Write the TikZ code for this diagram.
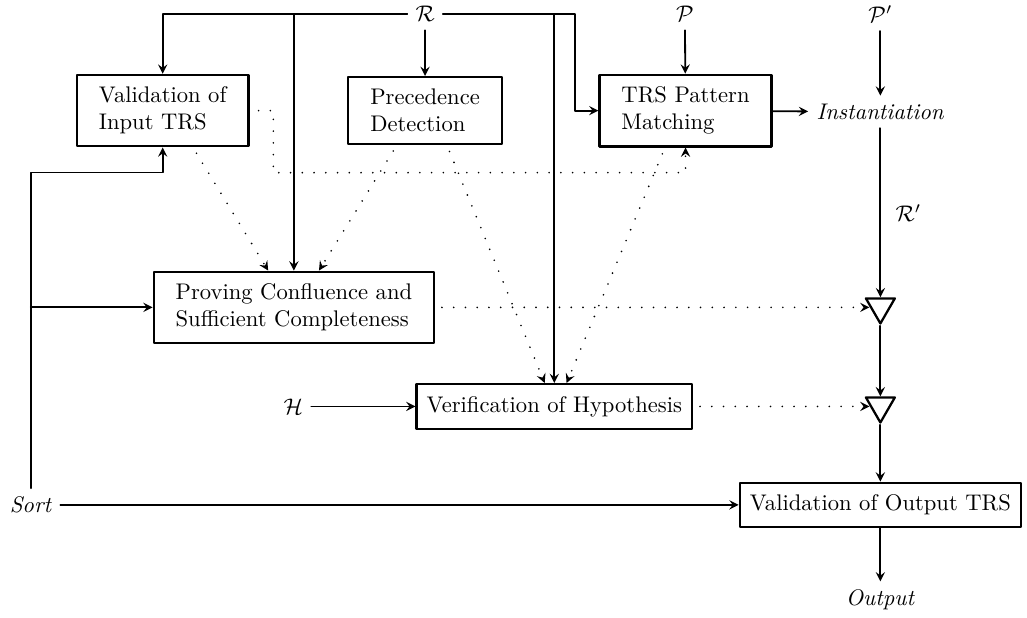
\documentclass[tikz,border=0pt]{standalone}
\usetikzlibrary{shapes.geometric}
\begin{document}
\begin{tikzpicture}[line cap=round,line join=round,>=stealth,thick,
  box/.style={draw,line width=1pt,inner xsep=4.5pt,inner ysep=5.3pt},
  mbox/.style={box,align=left,inner xsep=9.7pt},
  tri/.style={draw,line width=1pt,regular polygon,regular polygon sides=3,shape border rotate=180,inner sep=0pt,minimum size=14.8pt},
  dots/.style={dash pattern=on 0pt off 5.2pt}]
\useasboundingbox (0,0) rectangle (15.97,-9.596);
% inputs
\node (R) at (6.61,-0.22) {$\mathcal{R}$};
\node (P) at (10.65,-0.22) {$\mathcal{P}$};
\node (Pp) at (13.69,-0.22) {$\mathcal{P}'$};
\node (H) at (4.56,-6.32) {$\mathcal{H}$};
\node (sort) at (0.48,-7.85) {\textit{Sort}};
% boxes
\node[mbox] (valin) at (2.53,-1.72) {Validation of\\Input TRS};
\node[mbox] (prec) at (6.61,-1.72) {Precedence\\Detection};
\node[mbox] (trs) at (10.66,-1.72) {TRS Pattern\\Matching};
\node (inst) at (13.69,-1.74) {\textit{Instantiation}};
\node[mbox] (prov) at (4.57,-4.78) {Proving Confluence and\\Sufficient Completeness};
\node[box] (verif) at (8.62,-6.32) {Verification of Hypothesis};
\node[tri] (t1) at (13.69,-4.77) {};
\node[tri] (t2) at (13.69,-6.31) {};
\node[box] (outv) at (13.69,-7.85) {Validation of Output TRS};
\node (out) at (13.69,-9.33) {\textit{Output}};
% solid arrows
\draw[->] (R) -| (valin);
\draw[->] (R) -| (prov);
\draw[->] (R) -- (prec);
\draw[->] (R) -| (verif);
\draw[->] (R) -| ([xshift=-0.37cm]trs.west) -- (trs.west);
\draw[->] (P) -- (trs);
\draw[->] (Pp) -- (inst);
\draw[->] (trs) -- (inst);
\draw[->] (inst) -- (t1) node[right=3pt,pos=0.5] {$\mathcal{R}'$};
\draw[->] (t1) -- (t2);
\draw[->] (t2) -- (outv);
\draw[->] (outv) -- (out);
\draw[->] (H) -- (verif);
\draw[->] (sort) -- (outv);
\draw[->] (sort) |- ([yshift=-0.39cm]valin.south) -- (valin.south);
\draw[->] (sort |- prov) -- (prov);
% dotted arrows
\draw[dots,->,shorten <=4pt] (valin.east) -- ++(0.37,0) |- ([yshift=-0.39cm]trs.south) -- (trs.south);
\draw[dots,->,shorten <=3pt] ([xshift=0.47cm]valin.south) -- ([xshift=-0.40cm]prov.north);
\draw[dots,->,shorten <=3pt] ([xshift=-0.44cm]prec.south) -- ([xshift=0.39cm]prov.north);
\draw[dots,->,shorten <=3pt] ([xshift=0.34cm]prec.south) -- ([xshift=-0.15cm]verif.north);
\draw[dots,->,shorten <=3pt] ([xshift=-0.32cm]trs.south) -- ([xshift=0.19cm]verif.north);
\draw[dots,->,shorten <=3pt] (prov.east) -- (prov.east -| t1.west);
\draw[dots,->,shorten <=3pt] (verif.east) -- (verif.east -| t2.west);
\end{tikzpicture}
\end{document}
